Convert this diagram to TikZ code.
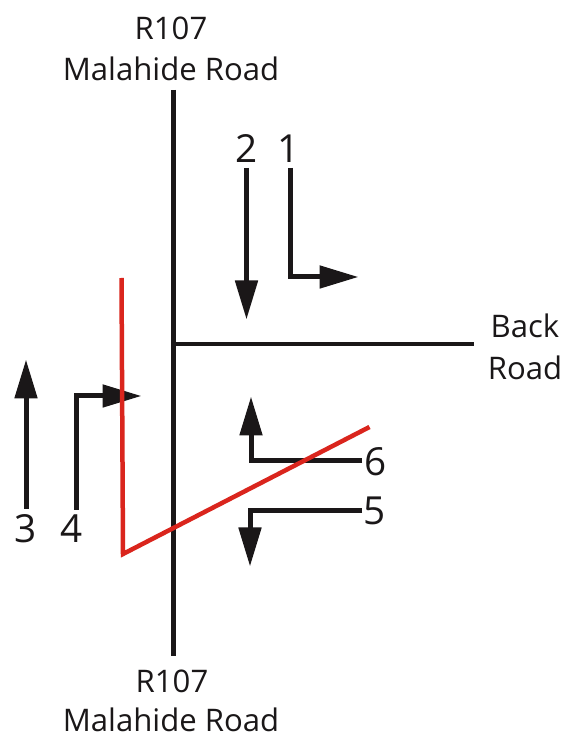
\documentclass[tikz,border=0pt]{standalone}
\usepackage{fontspec}
\setmainfont{Open Sans}
\usetikzlibrary{arrows.meta}
\definecolor{roadblack}{RGB}{26,23,24}
\definecolor{linered}{RGB}{218,37,29}
\begin{document}
\begin{tikzpicture}[>={Triangle[length=0.78cm,width=0.44cm]},line cap=butt,
  road/.style={draw=roadblack,line width=0.085cm},
  move/.style={draw=roadblack,line width=0.1cm,->},
  roadname/.style={text=roadblack,font=\fontsize{17.7}{20}\selectfont,inner sep=0pt},
  movenum/.style={text=roadblack,font=\fontsize{22}{26}\selectfont,inner sep=0pt}]
\useasboundingbox (0,0) rectangle (11.3,14.8);
\fill[white] (0,0) rectangle (11.3,14.8);
% roads
\draw[road] (3.47,13) -- (3.47,1.68);
\draw[road] (3.47,7.92) -- (9.48,7.92);
% movements
\draw[move] (4.93,11.44) -- (4.93,8.41);
\draw[move] (5.8,11.44) -- (5.8,9.26) -- (7.17,9.26);
\draw[move] (0.52,4.62) -- (0.52,7.61);
\draw[move] (1.52,4.6) -- (1.52,6.88) -- (2.83,6.88);
\draw[move] (7.24,5.58) -- (5.02,5.58) -- (5.02,6.87);
\draw[move] (7.24,4.58) -- (5.0,4.58) -- (5.0,3.47);
% red line
\draw[linered,line width=0.09cm,miter limit=10] (2.43,9.24) -- (2.46,3.72) -- (7.39,6.26);
% labels
\node[roadname] (topnum) at (3.42,14.24) {R107};
\node[roadname] (topname) at (3.42,13.42) {Malahide Road};
\node[roadname] (backname) at (10.5,8.28) {Back};
\node[roadname] (backroad) at (10.5,7.44) {Road};
\node[roadname] (botnum) at (3.44,1.18) {R107};
\node[roadname] (botname) at (3.42,0.4) {Malahide Road};
\node[movenum] (one) at (5.78,11.82) {1};
\node[movenum] (two) at (4.94,11.82) {2};
\node[movenum] (three) at (0.52,4.22) {3};
\node[movenum] (four) at (1.44,4.22) {4};
\node[movenum] (five) at (7.5,4.58) {5};
\node[movenum] (six) at (7.52,5.56) {6};
\end{tikzpicture}
\end{document}
